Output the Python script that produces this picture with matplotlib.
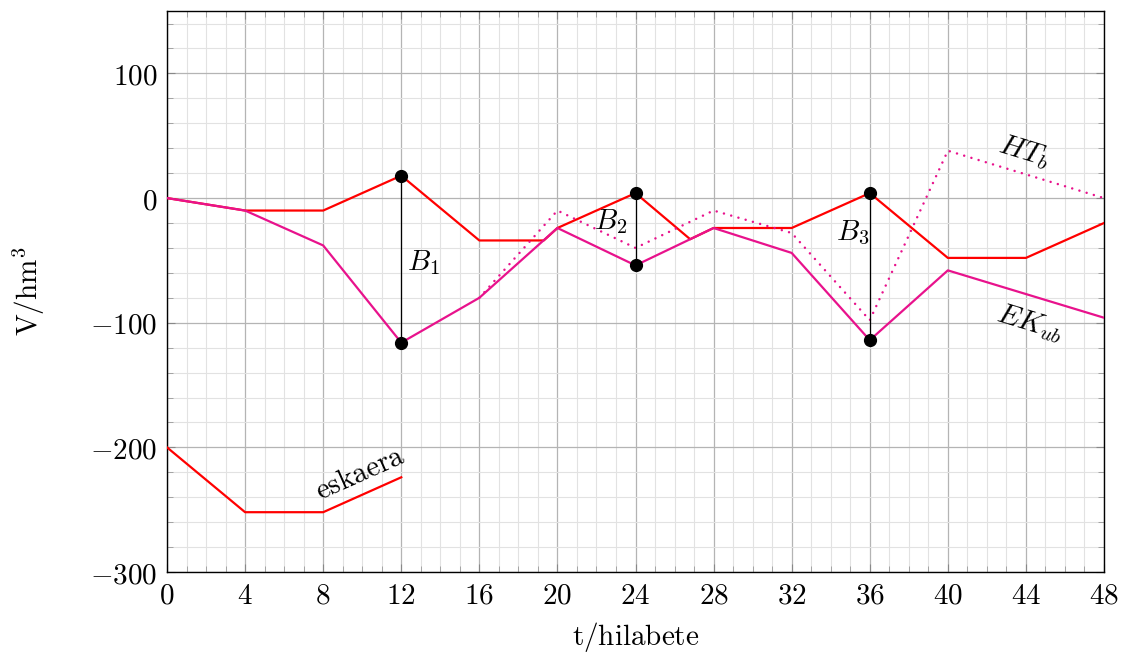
"""Reservoir volume chart: eskaera / EK_ub / HT_b"""

import matplotlib
matplotlib.use('Agg')
from matplotlib import pyplot as plt
from matplotlib.ticker import MultipleLocator, FuncFormatter

plt.rcParams['mathtext.fontset'] = 'cm'
plt.rcParams['font.family'] = ['DejaVu Serif']

# data (t in hilabete, V in hm^3)
red_t = [0, 4, 8, 12, 16, 19.3, 20, 24, 26.8, 28, 32, 36, 40, 44, 48]
red_v = [0, -10, -10, 18, -34, -34, -24, 4, -33, -24, -24, 4, -48, -48, -20]

ek_t = [0, 4, 8, 12, 16, 20, 24, 28, 32, 36, 40, 48]
ek_v = [0, -10, -38, -116, -80, -24, -54, -24, -44, -114, -58, -96]

ht_t = [16, 20, 24, 28, 32, 36, 40, 48]
ht_v = [-80, -10, -40, -10, -28, -98, 38, 0]

esk_t = [0, 4, 8, 12]
esk_v = [-200, -252, -252, -224]

b_t = [12, 24, 36]
b_top = [18, 4, 4]
b_bot = [-116, -54, -114]
b_labels = ['$B_1$', '$B_2$', '$B_3$']
b_label_pos = [(12.3, -52), (22.7, -19), (35.1, -28)]
b_label_ha = ['left', 'center', 'center']

red = '#ff0000'
magenta = '#e8128c'
fs = 21

fig = plt.figure(figsize=(11.3, 6.53), dpi=100)
ax = fig.add_axes([0.1478, 0.124, 0.8292, 0.859])

ax.plot(red_t, red_v, color=red, lw=1.6, zorder=3)
ax.plot(ek_t, ek_v, color=magenta, lw=1.6, zorder=3)
ax.plot(ht_t, ht_v, color=magenta, lw=1.8, ls=(0, (0.01, 3.0)),
        dash_capstyle='round', zorder=3)
ax.plot(esk_t, esk_v, color=red, lw=1.6, zorder=3)

for t, top, bot in zip(b_t, b_top, b_bot):
    ax.plot([t, t], [top, bot], color='black', lw=0.9, zorder=4)
    ax.plot([t, t], [top, bot], 'o', color='black', ms=8.5, zorder=5)

for lab, (x, y), ha in zip(b_labels, b_label_pos, b_label_ha):
    ax.text(x, y, lab, fontsize=fs, ha=ha, va='center', zorder=6)

ax.text(43.9, 37, '$HT_b$', fontsize=fs, rotation=-17,
        ha='center', va='center', rotation_mode='anchor')
ax.text(44.2, -100, '$EK_{ub}$', fontsize=fs, rotation=-17,
        ha='center', va='center', rotation_mode='anchor')
ax.text(9.9, -221, r'$\mathrm{eskaera}$', fontsize=fs, rotation=24,
        ha='center', va='center', rotation_mode='anchor')

ax.set_xlim(0, 48)
ax.set_ylim(-300, 150)
ax.xaxis.set_major_locator(MultipleLocator(4))
ax.xaxis.set_minor_locator(MultipleLocator(1))
ax.yaxis.set_major_locator(MultipleLocator(100))
ax.yaxis.set_minor_locator(MultipleLocator(20))
fmt = FuncFormatter(lambda v, p: f'${int(round(v))}$')
ax.xaxis.set_major_formatter(fmt)
ax.yaxis.set_major_formatter(fmt)

ax.grid(which='major', color='#b4b4b4', lw=0.9)
ax.grid(which='minor', color='#e2e2e2', lw=0.8)
ax.set_axisbelow(True)

ax.tick_params(which='both', direction='in', top=True, right=True,
               labelsize=fs, pad=7)
ax.tick_params(which='major', length=6, width=0.8, color='#888888')
ax.tick_params(which='minor', length=4, width=0.6, color='#999999')
for sp in ax.spines.values():
    sp.set_linewidth(1.0)

ax.set_xlabel(r'$\mathrm{t/hilabete}$', fontsize=fs)
ax.set_ylabel(r'$\mathrm{V/hm}^3$', fontsize=fs)
ax.xaxis.set_label_coords(0.5, -0.086)
ax.yaxis.set_label_coords(-0.128, 0.5)

fig.savefig('out.png', dpi=100)
